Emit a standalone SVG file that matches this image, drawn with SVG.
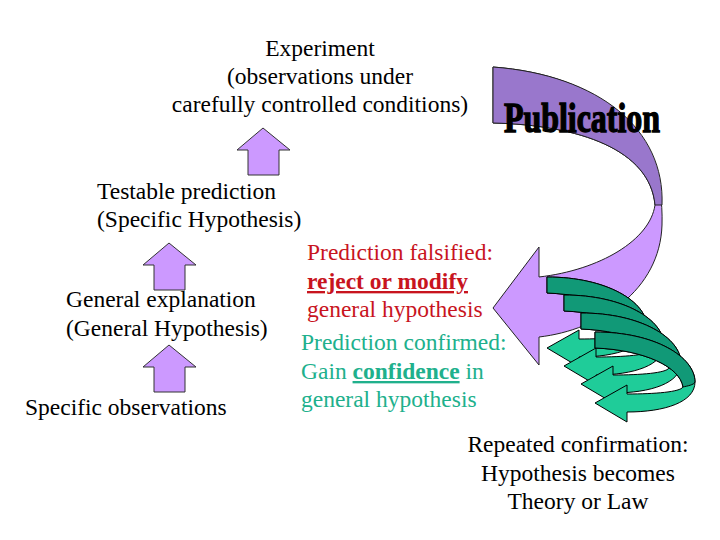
<svg xmlns="http://www.w3.org/2000/svg" width="720" height="540" viewBox="0 0 720 540">
<style>
text{font-family:"Liberation Serif","Times New Roman",serif;font-size:23.5px;fill:#000}
.red{fill:#c8141e}.teal{fill:#20b08c}
.up{fill:#cc99ff;stroke:#333;stroke-width:1}
.gl{fill:#1fcc99;stroke:#000;stroke-width:1}
.gd{fill:#119977;stroke:#000;stroke-width:1}
</style>
<defs>
<path id="upa" d="M0,0 L27,22 L16,22 L16,47 L-15,47 L-15,22 L-26,22 Z"/>
<path id="gfull" d="M0,0 C60,0 100,25 100,50 C100,70 70,80 32,80 L32,90 L0,71 L32,53 L32,62 C60,62 85,60 88,55 C85,35 50,18 0,16 Z"/>
<path id="gdark" d="M0,0 C60,0 100,25 100,50 C99,53 92,54 88,55 C85,35 50,18 0,16 Z"/>
<linearGradient id="pg" x1="0" y1="0" x2="0" y2="1">
<stop offset="0" stop-color="#fff"/><stop offset="0.5" stop-color="#888"/><stop offset="1" stop-color="#222"/>
</linearGradient>
</defs>
<g id="up-arrows">
<use href="#upa" class="up" transform="translate(263,128)"/>
<use href="#upa" class="up" transform="translate(169,243)"/>
<use href="#upa" class="up" transform="translate(169,345)"/>
</g>
<g id="publication-arrow">
<path d="M493,67 C600,75 665,130 662,225 C660,290 600,330 539,337 L539,365 L493,308 L539,247 L539,277 C600,270 650,240 655,205 C650,150 580,125 493,123 Z" fill="#cc99ff" stroke="#222"/>
<path d="M493,67 C600,75 665,130 662,205 L655,205 C650,150 580,125 493,123 Z" fill="#9977cc" stroke="#222"/>
<text transform="translate(504,132) scale(1,1.75)" font-family="'DejaVu Sans Condensed','Liberation Sans',sans-serif" font-weight="bold" font-size="27" textLength="156" lengthAdjust="spacingAndGlyphs" fill="url(#pg)" stroke="#000" stroke-width="0.8">Publication</text>
</g>
<g id="green-arrows">
<g transform="translate(547,277)"><use href="#gfull" class="gl"/><use href="#gdark" class="gd"/></g>
<g transform="translate(564,295)"><use href="#gfull" class="gl"/><use href="#gdark" class="gd"/></g>
<g transform="translate(581,313)"><use href="#gfull" class="gl"/><use href="#gdark" class="gd"/></g>
<g transform="translate(595,332)"><use href="#gfull" class="gl"/><use href="#gdark" class="gd"/></g>
</g>
<g id="texts">
<text x="320" y="56" text-anchor="middle">Experiment</text>
<text x="320" y="84" text-anchor="middle">(observations under</text>
<text x="320" y="112" text-anchor="middle">carefully controlled conditions)</text>
<text x="97" y="199">Testable prediction</text>
<text x="97" y="227">(Specific Hypothesis)</text>
<text x="307" y="260" class="red">Prediction falsified:</text>
<text x="307" y="289" class="red" font-weight="bold" text-decoration="underline">reject or modify</text>
<text x="307" y="317" class="red">general hypothesis</text>
<text x="66" y="307">General explanation</text>
<text x="66" y="336">(General Hypothesis)</text>
<text x="301" y="350" class="teal">Prediction confirmed:</text>
<text x="301" y="379" class="teal">Gain <tspan font-weight="bold" text-decoration="underline">confidence</tspan> in</text>
<text x="301" y="407" class="teal">general hypothesis</text>
<text x="25" y="415">Specific observations</text>
<text x="578" y="452" text-anchor="middle">Repeated confirmation:</text>
<text x="578" y="481" text-anchor="middle">Hypothesis becomes</text>
<text x="578" y="509" text-anchor="middle">Theory or Law</text>
</g>
</svg>
